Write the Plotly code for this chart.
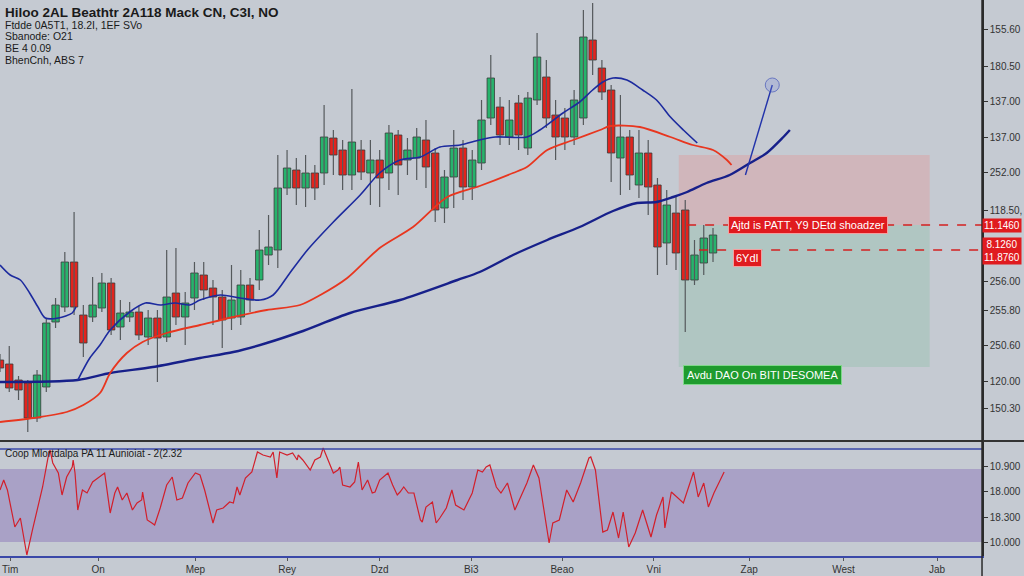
import plotly.graph_objects as go

# ---------------- data ----------------
opens = [140,136,120,117,82,113,178,193,238,185,
         183,192,217,173,183,188,163,182,163,207,
         183,202,225,212,203,182,183,215,220,245,
         250,312,330,312,327,327,362,350,325,350,
         327,340,327,365,340,342,360,347,292,323,
         352,313,337,382,393,363,397,352,400,423,
         385,382,363,382,460,432,410,342,363,315,
         347,315,257,287,290,220,237,247]
closes = [132,112,110,82,125,177,195,238,193,157,
          195,217,170,187,188,165,182,162,203,183,
          197,227,210,203,180,200,215,200,250,253,
          312,332,312,327,312,363,345,325,358,328,
          340,322,367,335,350,363,333,290,323,352,
          313,340,380,422,365,380,365,402,443,382,
          363,363,400,463,440,408,347,363,325,347,
          313,253,295,247,220,245,262,265]
highs = [146,154,124,120,130,182,202,248,288,195,
         223,227,222,200,198,194,190,190,250,252,
         208,238,238,220,210,235,230,222,270,285,
         345,350,342,345,335,395,370,360,411,360,
         360,350,375,370,362,372,380,352,330,370,
         360,350,400,445,403,400,405,408,467,440,
         400,392,410,490,497,440,415,405,370,370,
         360,322,310,305,300,260,275,272]
lows = [128,108,100,68,78,108,172,188,185,143,
        178,188,165,160,178,160,155,118,158,175,
        155,190,200,175,152,170,175,188,210,235,
        232,305,295,293,300,315,325,310,310,320,
        295,293,310,305,325,320,312,278,277,292,
        300,300,330,375,355,355,350,345,395,372,
        340,350,355,375,425,400,318,305,310,302,
        285,225,235,230,168,215,225,238]
bars = list(range(len(opens)))

fast_x = [0,1.1,2.2,3.2,4.1,4.9,6.3,7.8,8.2,None,
          8.4,9.7,10.8,11.9,14.0,15.7,17.3,18.9,20.5,21.6,
          23.8,25.9,28.1,29.5,31.3,33.2,36.0,38.9,41.0,43.2,
          45.4,47.5,49.7,51.8,53.5,56.9,58.3,60.8,62.6,64.0,
          65.1,66.2,67.7,69.4,70.9,72.4,73.8,75.3]
fast_v = [235,225,220,207,193,182,182,187,193,None,
          120,142,155,170,188,197,195,197,195,200,
          205,202,200,205,227,250,278,305,327,340,
          343,353,355,360,363,363,370,387,398,410,
          418,422,420,410,400,383,370,357]

mid_x = [0,3.6,7.2,9.0,10.8,11.9,13.7,15.4,18.0,21.6,
         25.2,28.8,32.4,34.6,37.5,41.0,44.6,48.3,51.8,55.4,
         56.9,59.1,61.9,64.8,65.9,69.1,72.4,74.8,77.0,78.5,79.0]
mid_v = [78,82,88,95,107,127,147,158,167,175,
         183,190,195,205,222,252,273,303,314,327,
         333,350,360,370,374,373,363,355,350,340,335]

slow_x = [0,8.4,11.9,16.5,21.6,25.2,28.8,32.4,37.8,43.2,
          49.4,51.8,55.4,59.1,62.6,66.2,68.8,70.9,72.7,74.2,
          76.3,78.8,81.0,82.8,84.6,85.3]
slow_v = [118,120,127,133,142,148,157,168,187,200,
          220,228,245,260,273,289,297,298,303,308,
          317,325,337,347,363,370]

rsi_x = [0.0,0.4,0.8,1.3,1.6,2.2,2.9,3.5,4.1,4.6,
         5.2,5.4,5.7,6.3,6.7,7.2,7.8,7.9,8.1,8.4,
         8.9,9.4,10.0,10.8,11.3,11.9,12.4,12.7,13.2,13.7,
         14.3,14.8,15.3,15.4,15.9,16.4,16.7,17.3,18.0,18.6,
         19.1,19.7,20.3,21.1,21.6,22.1,23.0,23.4,24.1,24.8,
         25.2,25.6,25.9,26.5,26.8,27.2,27.8,28.4,29.2,29.5,
         29.9,30.2,31.0,31.6,32.1,32.2,32.7,33.5,34.0,34.6,
         34.9,35.4,36.0,36.5,36.7,37.0,37.8,38.3,38.7,39.1,
         39.4,39.7,40.2,40.5,41.0,41.9,42.4,42.9,43.2,
         43.6,44.1,44.7,45.4,45.6,46.0,46.7,47.1,47.5,48.2,
         48.8,49.2,50.1,51.0,51.6,52.1,52.5,52.9,53.6,54.1,
         54.8,55.6,56.3,56.9,57.6,58.2,59.3,59.7,60.4,61.2,
         61.9,62.7,63.6,63.8,64.3,65.1,65.6,66.2,66.8,67.3,
         67.9,68.6,69.4,70.3,70.9,71.6,71.8,72.5,73.8,74.9,
         75.4,76.0,76.5,77.1,78.2]
rsi_v = [66,76,66,43,29,38,1,26,49,69,
         99,106,93,83,61,79,89,96,83,46,
         66,63,74,79,83,43,63,69,56,63,
         46,53,56,64,36,33,31,48,71,79,
         56,58,73,83,81,66,33,46,48,54,
         53,69,61,78,81,84,104,101,99,104,
         78,104,101,103,96,101,96,86,96,99,
         108,96,83,86,89,71,69,74,94,66,
         71,76,63,64,76,83,71,61,64,
         69,63,63,36,34,49,54,33,38,48,
         66,51,46,63,86,84,89,91,69,63,
         73,46,61,73,91,78,13,33,36,66,
         54,73,98,99,86,24,26,44,18,44,
         9,23,46,19,41,59,28,64,53,84,
         59,73,49,63,84]
assert len(rsi_x) == len(rsi_v)

x_tick_vals = [1.1,10.6,21.1,31.0,41.0,50.9,60.7,70.6,80.9,91.1,101.2]
x_tick_text = ["Tim","On","Mep","Rey","Dzd","Bi3","Beao","Vni","Zap","West","Jab"]
y_tick_vals = [471,434,399,363,328,290,219,190,155,119,92]
y_tick_text = ["155.60","180.50","137.00","137.00","252.00","118.50,","256.00",
               "255.80","250.60","120.00","150.30"]
rsi_tick_vals = [89,64,39,14]
rsi_tick_text = ["10.900","18.000","18.300","10.000"]

header = ["Hiloo 2AL Beathtr 2A118 Mack CN, C3I, NO",
          "Ftdde 0A5T1, 18.2I, 1EF SVo",
          "Sbanode: O21",
          "BE 4 0.09",
          "BhenCnh, ABS 7"]
rsi_title = "Coop Mlortdalpa PA 11 Aunioiat - 2(2.32"

zone_x = [73.3, 100.4]
target_top = 345
entry_level = 275
second_level = 250
stop_level = 133
band_hi, band_lo, rsi_top_line = 87, 14, 107
doodle_x = [80.5, 83.4]
doodle_v = [325, 415]

# ---------------- figure ----------------
BG = "#c5cad2"
FONT = "Liberation Sans"
XR = [0, 106.05]
XD = [0, 0.959]
UP, DOWN = "#27b36c", "#e3231d"

fig = go.Figure()

# candle wicks
wick_x, wick_y = [], []
for b, lo, hi in zip(bars, lows, highs):
    wick_x += [b, b, None]
    wick_y += [lo, hi, None]
fig.add_trace(go.Scatter(x=wick_x, y=wick_y, mode="lines", xaxis="x", yaxis="y",
                         line=dict(color="#55595c", width=1.2),
                         showlegend=False, hoverinfo="skip"))
# candle bodies
body_base = [min(o, c) for o, c in zip(opens, closes)]
body_len = [max(abs(c - o), 1.5) for o, c in zip(opens, closes)]
body_col = [UP if c >= o else DOWN for o, c in zip(opens, closes)]
fig.add_trace(go.Bar(x=bars, y=body_len, base=body_base, width=0.8, xaxis="x", yaxis="y",
                     marker=dict(color=body_col, line=dict(color="#363a38", width=0.8)),
                     showlegend=False, hoverinfo="skip"))

fig.add_trace(go.Scatter(x=slow_x, y=slow_v, mode="lines", xaxis="x", yaxis="y",
                         line=dict(color="#17208a", width=2.4, shape="spline", smoothing=0.8),
                         showlegend=False, hoverinfo="skip"))
fig.add_trace(go.Scatter(x=mid_x, y=mid_v, mode="lines", xaxis="x", yaxis="y",
                         line=dict(color="#e8361f", width=1.8, shape="spline", smoothing=0.8),
                         showlegend=False, hoverinfo="skip"))
fig.add_trace(go.Scatter(x=fast_x, y=fast_v, mode="lines", xaxis="x", yaxis="y",
                         line=dict(color="#1c2a9e", width=1.6, shape="spline", smoothing=0.8),
                         connectgaps=False, showlegend=False, hoverinfo="skip"))
fig.add_trace(go.Scatter(x=doodle_x, y=doodle_v, mode="lines+markers", xaxis="x", yaxis="y",
                         line=dict(color="#2233aa", width=1.4),
                         marker=dict(size=[0, 14], color="rgba(120,140,220,0.35)",
                                     line=dict(color="#4455bb", width=1)),
                         showlegend=False, hoverinfo="skip"))

fig.add_trace(go.Scatter(x=rsi_x, y=rsi_v, mode="lines", xaxis="x2", yaxis="y2",
                         line=dict(color="#d21f2b", width=1.2),
                         showlegend=False, hoverinfo="skip"))

shapes = [
    dict(type="rect", xref="paper", yref="y2", x0=XD[0], x1=XD[1], y0=band_lo, y1=band_hi,
         fillcolor="#a9a1c6", line=dict(width=0), layer="below"),
    dict(type="line", xref="paper", yref="y2", x0=XD[0], x1=XD[1], y0=rsi_top_line, y1=rsi_top_line,
         line=dict(color="#3a48a8", width=1.5)),
    dict(type="rect", xref="x", yref="y", x0=zone_x[0], x1=zone_x[1], y0=entry_level, y1=target_top,
         fillcolor="rgba(225,150,150,0.38)", line=dict(width=0), layer="below"),
    dict(type="rect", xref="x", yref="y", x0=zone_x[0], x1=zone_x[1], y0=stop_level, y1=entry_level,
         fillcolor="rgba(130,190,160,0.30)", line=dict(width=0), layer="below"),
    dict(type="line", xref="x", yref="y", x0=74.2, x1=XR[1], y0=entry_level, y1=entry_level,
         line=dict(color="#d42020", width=1.3, dash="dash")),
    dict(type="line", xref="x", yref="y", x0=75.5, x1=XR[1], y0=second_level, y1=second_level,
         line=dict(color="#d42020", width=1.3, dash="dash")),
    dict(type="line", xref="paper", yref="paper", x0=0, x1=1, y0=0.2344, y1=0.2344,
         line=dict(color="#333333", width=2)),
    dict(type="line", xref="paper", yref="paper", x0=XD[1], x1=XD[1], y0=0, y1=1,
         line=dict(color="#2b2b2b", width=1.5)),
]

ann = []
ys = [13, 25, 36, 48, 60]
for i, t in enumerate(header):
    ann.append(dict(text=("<b>%s</b>" % t) if i == 0 else t, xref="paper", yref="paper",
                    x=3 / 1024, y=1 - ys[i] / 576, xanchor="left", yanchor="middle",
                    showarrow=False,
                    font=dict(family=FONT, size=13.5 if i == 0 else 10.5, color="#1a1a1a")))
ann.append(dict(text=rsi_title, xref="paper", yref="paper", x=3 / 1024, y=1 - 453 / 576,
                xanchor="left", yanchor="middle", showarrow=False,
                font=dict(family=FONT, size=10, color="#1a1a1a")))
ann.append(dict(text="Ajtd is PATT, Y9 DEtd shoadzer", xref="x", yref="y", x=87.3, y=entry_level,
                showarrow=False, bgcolor="#e01b1f", bordercolor="#f3a0a0", borderwidth=1, borderpad=2,
                font=dict(family=FONT, size=11, color="white")))
ann.append(dict(text="6YdI", xref="x", yref="y", x=80.7, y=242,
                showarrow=False, bgcolor="#e01b1f", bordercolor="#f3a0a0", borderwidth=1, borderpad=2,
                font=dict(family=FONT, size=11, color="white")))
ann.append(dict(text="Avdu DAO On BITI DESOMEA", xref="x", yref="y", x=82.3, y=125,
                showarrow=False, bgcolor="#1f9b2e", bordercolor="#7fd88a", borderwidth=1, borderpad=3,
                font=dict(family=FONT, size=11, color="white")))
ann.append(dict(text="11.1460", xref="paper", yref="y", x=XD[1], y=entry_level,
                xanchor="left", showarrow=False, bgcolor="#e01b1f", borderpad=1,
                font=dict(family=FONT, size=10, color="white")))
ann.append(dict(text="8.1260<br>11.8760", xref="paper", yref="y", x=XD[1], y=second_level - 1,
                xanchor="left", showarrow=False, bgcolor="#e01b1f", borderpad=1,
                font=dict(family=FONT, size=10, color="white")))

fig.update_layout(
    width=1024, height=576, margin=dict(l=0, r=0, t=0, b=0),
    paper_bgcolor=BG, plot_bgcolor=BG, showlegend=False, barmode="overlay",
    font=dict(family=FONT, size=10, color="#333333"),
    xaxis=dict(domain=XD, anchor="y", range=XR, showticklabels=False, showgrid=False,
               zeroline=False, showline=False, ticks=""),
    yaxis=dict(domain=[0.2361, 1], anchor="x", side="right", range=[60, 500],
               tickvals=y_tick_vals, ticktext=y_tick_text, ticks="outside", ticklen=4,
               tickcolor="#333333", showline=True, linecolor="#2b2b2b", linewidth=1.5,
               showgrid=False, zeroline=False, tickfont=dict(size=10, color="#333333")),
    xaxis2=dict(domain=XD, anchor="y2", range=XR, tickvals=x_tick_vals, ticktext=x_tick_text,
                ticks="outside", ticklen=3, tickcolor="#555555", showline=True,
                linecolor="#3a48a8", linewidth=1.5, showgrid=False, zeroline=False,
                tickfont=dict(size=10, color="#333333")),
    yaxis2=dict(domain=[0.0347, 0.2344], anchor="x2", side="right", range=[0, 115],
                tickvals=rsi_tick_vals, ticktext=rsi_tick_text, ticks="outside", ticklen=4,
                tickcolor="#333333", showline=True, linecolor="#2b2b2b", linewidth=1.5,
                showgrid=False, zeroline=False, tickfont=dict(size=10, color="#333333")),
    shapes=shapes, annotations=ann,
)

fig.write_html("out.html", config={"displayModeBar": False},
               post_script="document.body.style.margin='0';document.body.style.overflow='hidden';")
